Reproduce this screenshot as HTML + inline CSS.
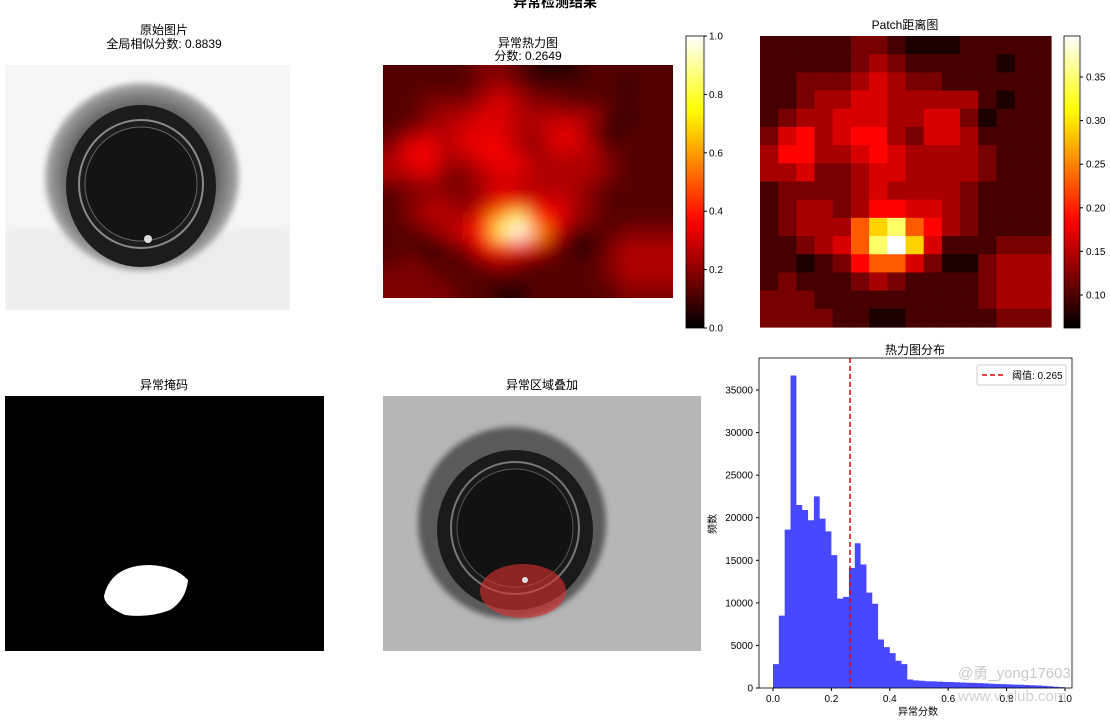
<!DOCTYPE html>
<html><head><meta charset="utf-8"><style>
html,body{margin:0;padding:0;background:#fff;}
svg text{font-family:"Liberation Sans","Noto Sans CJK SC",sans-serif;}
</style></head><body>
<svg id="s" width="1110" height="716" viewBox="0 0 1110 716" xmlns="http://www.w3.org/2000/svg">
<defs>
<filter id="bl" x="-20%" y="-20%" width="140%" height="140%"><feGaussianBlur stdDeviation="9"/></filter>
<filter id="bl2"><feGaussianBlur stdDeviation="3"/></filter>
<clipPath id="hc"><rect x="383" y="65" width="290" height="233"/></clipPath>
<clipPath id="oc"><rect x="5" y="65" width="285" height="245"/></clipPath>
<clipPath id="ovc"><rect x="383" y="396" width="318" height="255"/></clipPath>
<radialGradient id="ring" cx="0.5" cy="0.5" r="0.5"><stop offset="0.7" stop-color="#555"/><stop offset="0.9" stop-color="#8a8a8a"/><stop offset="1" stop-color="#b0b0b0"/></radialGradient>
<linearGradient id="cb" x1="0" y1="1" x2="0" y2="0"></linearGradient>
</defs>
<text x="555" y="7" font-size="14" text-anchor="middle" font-weight="bold">异常检测结果</text>

<text x="164" y="34" font-size="12" text-anchor="middle">原始图片</text>
<text x="164" y="48" font-size="12" text-anchor="middle">全局相似分数: 0.8839</text>
<g clip-path="url(#oc)">
<rect x="5" y="65" width="285" height="245" fill="#f6f6f6"/>
<rect x="5" y="230" width="285" height="80" fill="#ececec" filter="url(#bl2)"/>
<ellipse cx="142" cy="177" rx="97" ry="94" fill="url(#ring)" filter="url(#bl2)"/>
<ellipse cx="141" cy="186" rx="75" ry="81" fill="#1c1c1c"/>
<ellipse cx="141" cy="184" rx="62" ry="64" fill="none" stroke="#8a8a8a" stroke-width="2"/>
<ellipse cx="141" cy="184" rx="56" ry="57" fill="#141414" stroke="#666" stroke-width="1"/>
<circle cx="148" cy="239" r="4" fill="#ddd"/>
</g>

<text x="528" y="47" font-size="12" text-anchor="middle">异常热力图</text>
<text x="528" y="60" font-size="12" text-anchor="middle">分数: 0.2649</text>
<g clip-path="url(#hc)"><rect x="383" y="65" width="290" height="233" fill="#3a0000"/><g id="hm" filter="url(#bl)"></g></g>
<rect x="686" y="36" width="18" height="292" fill="url(#cb)" stroke="#000" stroke-width="0.8"/>
<g id="cbt1" font-size="10"></g>

<text x="905" y="29" font-size="12" text-anchor="middle">Patch距离图</text>
<g id="pm"></g>
<rect x="1064" y="36" width="16" height="292" fill="url(#cb)" stroke="#000" stroke-width="0.8"/>
<g id="cbt2" font-size="10"></g>

<text x="164" y="389" font-size="12" text-anchor="middle">异常掩码</text>
<rect x="5" y="396" width="319" height="255" fill="#000"/>
<path d="M113,578 Q125,565 150,565 Q175,566 188,580 Q186,600 170,610 Q150,618 125,615 Q104,606 104,596 Q106,586 113,578Z" fill="#fff"/>

<text x="542" y="389" font-size="12" text-anchor="middle">异常区域叠加</text>
<g clip-path="url(#ovc)">
<rect x="383" y="396" width="318" height="255" fill="#b6b6b6"/>
<ellipse cx="512" cy="523" rx="94" ry="96" fill="#5a5a5a" filter="url(#bl2)"/>
<ellipse cx="515" cy="530" rx="78" ry="80" fill="#1a1a1a"/>
<ellipse cx="515" cy="528" rx="64" ry="66" fill="none" stroke="#777" stroke-width="2"/>
<ellipse cx="515" cy="528" rx="58" ry="59" fill="#121212" stroke="#555"/>
<ellipse cx="523" cy="591" rx="43" ry="27" fill="#e03030" fill-opacity="0.6"/>
<circle cx="525" cy="580" r="3" fill="#ddd"/>
</g>

<text x="915" y="354" font-size="12" text-anchor="middle">热力图分布</text>
<g id="hist"></g>
<line x1="850" y1="358" x2="850" y2="688" stroke="#e00" stroke-width="1.5" stroke-dasharray="5,3"/>
<rect x="759" y="358" width="313" height="330" fill="none" stroke="#000" stroke-width="0.8"/>
<rect x="977" y="365" width="89" height="20" fill="#fff" stroke="#ccc" rx="2"/>
<line x1="982" y1="375" x2="1004" y2="375" stroke="#e00" stroke-width="1.5" stroke-dasharray="5,3"/>
<text x="1012" y="379" font-size="10">阈值: 0.265</text>
<g id="hax" font-size="10"></g>
<text x="716" y="524" font-size="10" text-anchor="middle" transform="rotate(-90 716 524)">频数</text>
<text x="918" y="715" font-size="10" text-anchor="middle">异常分数</text>
<text x="958" y="678" font-size="15" fill="#c8c8c8">@勇_yong17603</text>
<text x="958" y="701" font-size="15" fill="#d0d0d0">www.v-club.com</text>
</svg>
<script>
var NS="http://www.w3.org/2000/svg";
function el(p,t,a,txt){var e=document.createElementNS(NS,t);for(var k in a)e.setAttribute(k,a[k]);if(txt!=null)e.textContent=txt;p.appendChild(e);return e;}
function cl(x){return Math.max(0,Math.min(1,x));}
function hot(t){var r=cl(t/0.365),g=cl((t-0.365)/0.381),b=cl((t-0.746)/0.254);return "rgb("+Math.round(r*255)+","+Math.round(g*255)+","+Math.round(b*255)+")";}
var cb=document.getElementById("cb");
for(var i=0;i<=20;i++){el(cb,"stop",{offset:i/20,"stop-color":hot(i/20)});}
var G=["1111122100011111","1111123211111011","1122234322111111","1123344333331011","1233444334420111","2453455324431111","3553345433332111","3342234433332111","1222234333321111","1233235544321111","1233367865321111","1123468974111222","1101256642002333","1211123211112333","2221111111112333","2222110011111222"];
var T=[0.04,0.1,0.17,0.24,0.31,0.37,0.5,0.68,0.85,1.0];
var T2=[0.05,0.12,0.18,0.25,0.32,0.35,0.42,0.62,0.85,1.0];
var pm=document.getElementById("pm"),hm=document.getElementById("hm");
var cw=291/16,ch=291/16,hw=290/16,hh=233/16;
for(var r=0;r<16;r++)for(var c=0;c<16;c++){var L=+G[r][c];
el(pm,"rect",{x:760+c*cw,y:36+r*ch,width:cw+0.6,height:ch+0.6,fill:hot(T[L])});
el(hm,"rect",{x:383+c*hw-(c==0?20:0),y:65+r*hh-(r==0?20:0),width:hw+0.6+(c==0||c==15?20:0),height:hh+0.6+(r==0||r==15?20:0),fill:hot(T2[L])});}
var c1=document.getElementById("cbt1");
for(var i=0;i<=5;i++){var y=328-i*58.4;el(c1,"line",{x1:704,x2:707,y1:y,y2:y,stroke:"#000"});el(c1,"text",{x:709,y:y+3.5},(i*0.2).toFixed(1));}
var c2=document.getElementById("cbt2");
for(var i=0;i<6;i++){var v=0.10+i*0.05,y=295-i*43.6;el(c2,"line",{x1:1080,x2:1083,y1:y,y2:y,stroke:"#000"});el(c2,"text",{x:1086,y:y+3.5},v.toFixed(2));}
var H=[2800,8500,18600,36700,21500,20900,19700,22500,19900,18400,15600,10500,10700,14100,17000,14500,11200,9900,5700,4800,4100,3200,2800,1000,900,850,800,780,750,720,700,680,650,620,600,570,540,500,470,450,420,400,380,350,320,300,250,200,150,100];
var hg=document.getElementById("hist"),d="M773,688";
for(var i=0;i<50;i++){var x0=773+i*5.84,x1=x0+5.84,y=688-H[i]*298/35000;d+=" L"+x0+","+y+" L"+x1+","+y;}
d+=" L"+(773+292)+",688Z";el(hg,"path",{d:d,fill:"#4848ff"});
var ax=document.getElementById("hax");
for(var i=0;i<=7;i++){var y=688-i*5000*298/35000;el(ax,"line",{x1:756,x2:759,y1:y,y2:y,stroke:"#000"});el(ax,"text",{x:753,y:y+3.5,"text-anchor":"end"},String(i*5000));}
for(var i=0;i<=5;i++){var x=773+i*0.2*292;el(ax,"line",{x1:x,x2:x,y1:688,y2:691,stroke:"#000"});el(ax,"text",{x:x,y:702,"text-anchor":"middle"},(i*0.2).toFixed(1));}
</script>
</body></html>
